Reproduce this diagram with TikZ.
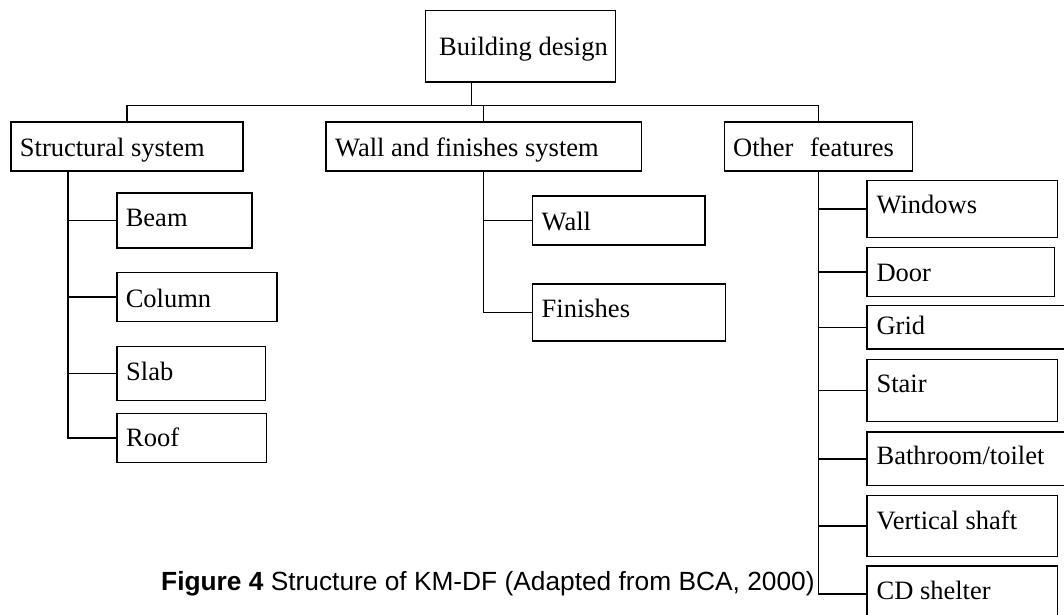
\documentclass[tikz,border=0pt]{standalone}
\usepackage{fontspec}
\setmainfont{Liberation Serif}
\newfontfamily\capfont{Liberation Sans}
\begin{document}
\begin{tikzpicture}[x=1pt,y=-1pt,
  box/.style={draw, line width=1.5pt, inner sep=0pt, anchor=north west},
  lbl/.style={anchor=base west, inner sep=0pt, font=\fontsize{26.5}{30}\selectfont},
  link/.style={line width=1.5pt}]
\clip (0,0) rectangle (1064,614);
\fill[white] (0,0) rectangle (1064,614);
% boxes
\node[box, minimum width=190, minimum height=71.5] (bd) at (424.5,9.5) {};
\node[box, minimum width=232, minimum height=49] (ss) at (10,121) {};
\node[box, minimum width=315.6, minimum height=49] (wf) at (325,121) {};
\node[box, minimum width=188, minimum height=49] (of) at (723.7,121) {};
\node[box, minimum width=135, minimum height=55] (beam) at (116.4,192.4) {};
\node[box, minimum width=159.8, minimum height=49.1] (column) at (116.4,271.5) {};
\node[box, minimum width=148.3, minimum height=53.9] (slab) at (116.4,345.7) {};
\node[box, minimum width=149.3, minimum height=49.2] (roof) at (116.4,412.5) {};
\node[box, minimum width=172.5, minimum height=49.3] (wall) at (531.7,195) {};
\node[box, minimum width=192.8, minimum height=57.3] (fin) at (531.7,283) {};
\node[box, minimum width=190.4, minimum height=57.1] (win) at (866.2,179.8) {};
\node[box, minimum width=187.7, minimum height=48.9] (door) at (866.2,246.7) {};
\node[box, minimum width=210, minimum height=43.7] (grid) at (866.2,304.7) {};
\node[box, minimum width=190.4, minimum height=62.1] (stair) at (866.2,358.6) {};
\node[box, minimum width=210, minimum height=53.6] (bath) at (866.2,431.2) {};
\node[box, minimum width=190.4, minimum height=61.1] (vs) at (866.2,494.6) {};
\node[box, minimum width=190.4, minimum height=56] (cd) at (866.2,565) {};
% labels
\node[lbl] (tbd) at (439,55) {Building design};
\node[lbl] (tss) at (19.7,156) {Structural system};
\node[lbl] (twf) at (335,156) {Wall and finishes system};
\node[lbl] (tof) at (733,156) {Other\hspace{16.5pt}features};
\node[lbl] (tbeam) at (125.6,226.7) {Beam};
\node[lbl] (tcol) at (125.6,307) {Column};
\node[lbl] (tslab) at (126,380) {Slab};
\node[lbl] (troof) at (126,446) {Roof};
\node[lbl] (twall) at (541.5,230) {Wall};
\node[lbl] (tfin) at (541.5,317) {Finishes};
\node[lbl] (twin) at (876.4,213.8) {Windows};
\node[lbl] (tdoor) at (876.4,281) {Door};
\node[lbl] (tgrid) at (876.4,334.1) {Grid};
\node[lbl] (tstair) at (876.4,392.8) {Stair};
\node[lbl] (tbath) at (876.4,464.8) {Bathroom/toilet};
\node[lbl] (tvs) at (876.4,529.3) {Vertical shaft};
\node[lbl] (tcd) at (876.4,599.5) {CD shelter};
% connectors
\coordinate (bus) at (471.7,105.5);
\coordinate (ssT) at (68,170);
\draw[link] (bd.south -| bus) -- (bus);
\draw[link] (ss.north) |- (bus) -| (of.north);
\draw[link] (wf.north) -- (wf.north |- bus);
\foreach \c in {beam,column,slab,roof} \draw[link] (ssT) |- (\c.west);
\foreach \c in {wall,fin} \draw[link] (wf.south) |- (\c.west);
\foreach \c in {win,door,grid,stair,bath,vs,cd} \draw[link] (of.south) |- (\c.west);
% caption
\node[anchor=base west, inner sep=0pt, font=\capfont\fontsize{26.3}{30}\selectfont] (cap) at (161,590) {\textbf{Figure 4} Structure of KM-DF (Adapted from BCA, 2000)};
\end{tikzpicture}
\end{document}
